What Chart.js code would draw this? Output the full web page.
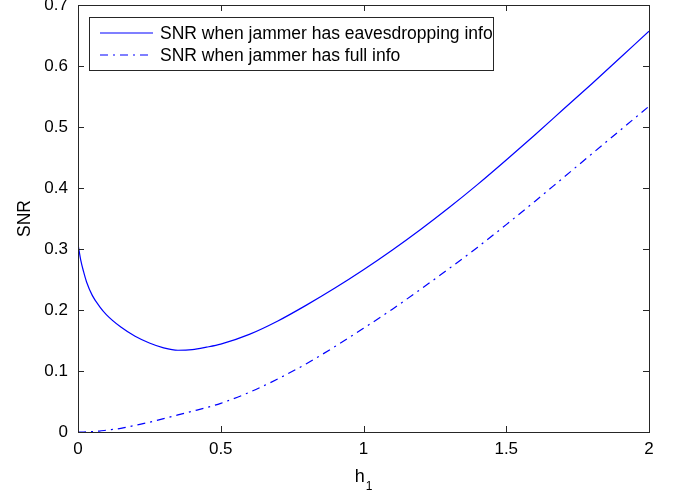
<!DOCTYPE html>
<html>
<head>
<meta charset="utf-8">
<script src="https://cdn.jsdelivr.net/npm/chart.js@4.4.1/dist/chart.umd.min.js"></script>
<style>
  html, body { margin: 0; padding: 0; background: #fff; }
  #wrap { width: 678px; height: 494px; }
</style>
</head>
<body>
<div id="wrap"><canvas id="c" width="678" height="494"></canvas></div>
<script>
const h1Values = [0, 0.01, 0.02, 0.03, 0.05, 0.075, 0.1, 0.15, 0.2, 0.25, 0.3, 0.35, 0.4, 0.45, 0.5,
  0.6, 0.7, 0.8, 0.9, 1.0, 1.1, 1.2, 1.3, 1.4, 1.5, 1.6, 1.7, 1.8, 1.9, 2.0]
const snrEavesdrop = [0.308, 0.281, 0.262, 0.246, 0.224, 0.206, 0.192, 0.172, 0.157, 0.146, 0.138, 0.134, 0.135, 0.139, 0.144,
  0.160, 0.182, 0.208, 0.236, 0.266, 0.298, 0.332, 0.368, 0.406, 0.446, 0.487, 0.529, 0.571, 0.614, 0.657]
const snrFull = [0, 0, 0, 0.0002, 0.0007, 0.0015, 0.003, 0.006, 0.011, 0.016, 0.022, 0.028, 0.034, 0.040, 0.047,
  0.065, 0.087, 0.112, 0.140, 0.170, 0.201, 0.234, 0.268, 0.303, 0.340, 0.378, 0.417, 0.456, 0.495, 0.534]
const seriesLabels = ['SNR when jammer has eavesdropping info', 'SNR when jammer has full info']
const xTickLabels = ['0', '0.5', '1', '1.5', '2']
const yTickLabels = ['0', '0.1', '0.2', '0.3', '0.4', '0.5', '0.6', '0.7']

const FONT = 'Liberation Sans, Arial, sans-serif'
const BLUE = '#0000ff'

const toPoints = ys => ys.map((y, i) => ({ x: h1Values[i], y }))

const matlabFrame = {
  id: 'matlab-frame',
  afterDraw(chart) {
    const { ctx, chartArea: a, scales } = chart
    const tick = 6
    ctx.save()
    ctx.strokeStyle = '#262626'
    ctx.lineWidth = 1
    ctx.strokeRect(a.left + 0.5, a.top + 0.5, a.right - a.left, a.bottom - a.top)

    ctx.beginPath()
    scales.x.ticks.forEach(t => {
      const px = Math.round(scales.x.getPixelForValue(t.value)) + 0.5
      ctx.moveTo(px, a.bottom); ctx.lineTo(px, a.bottom - tick)
      ctx.moveTo(px, a.top); ctx.lineTo(px, a.top + tick)
    })
    scales.y.ticks.forEach(t => {
      const py = Math.round(scales.y.getPixelForValue(t.value)) + 0.5
      ctx.moveTo(a.left, py); ctx.lineTo(a.left + tick, py)
      ctx.moveTo(a.right, py); ctx.lineTo(a.right - tick, py)
    })
    ctx.stroke()

    // axis titles
    ctx.fillStyle = '#000'
    ctx.textBaseline = 'alphabetic'
    const cx = (a.left + a.right) / 2
    ctx.font = '18px ' + FONT
    const hw = ctx.measureText('h').width
    ctx.font = '12px ' + FONT
    const sw = ctx.measureText('1').width
    const startX = cx - (hw + sw + 1) / 2
    ctx.font = '18px ' + FONT
    ctx.fillText('h', startX, 482)
    ctx.font = '12px ' + FONT
    ctx.fillText('1', startX + hw + 1, 490)

    ctx.save()
    ctx.translate(30, (a.top + a.bottom) / 2)
    ctx.rotate(-Math.PI / 2)
    ctx.font = '17.5px ' + FONT
    ctx.textAlign = 'center'
    ctx.fillText('SNR', 0, 0)
    ctx.restore()

    // legend
    const box = { x: 89.5, y: 17.5, w: 404, h: 53 }
    ctx.fillStyle = '#fff'
    ctx.fillRect(box.x, box.y, box.w, box.h)
    ctx.strokeStyle = '#262626'
    ctx.strokeRect(box.x, box.y, box.w, box.h)
    ctx.font = '17.5px ' + FONT
    ctx.textBaseline = 'middle'
    ctx.textAlign = 'left'
    chart.data.datasets.forEach((ds, i) => {
      const y = 33 + i * 22
      ctx.strokeStyle = BLUE
      ctx.lineWidth = 1.2
      ctx.setLineDash(ds.borderDash || [])
      ctx.beginPath()
      ctx.moveTo(100, y); ctx.lineTo(153, y)
      ctx.stroke()
      ctx.setLineDash([])
      ctx.fillStyle = '#000'
      ctx.fillText(ds.label, 160, y + 1)
    })
    ctx.restore()
  }
}

new Chart(document.getElementById('c'), {
  type: 'line',
  data: {
    datasets: [
      {
        label: seriesLabels[0],
        data: toPoints(snrEavesdrop),
        borderColor: BLUE,
        borderWidth: 1.2,
        pointRadius: 0,
        cubicInterpolationMode: 'monotone'
      },
      {
        label: seriesLabels[1],
        data: toPoints(snrFull),
        borderColor: BLUE,
        borderWidth: 1.2,
        borderDash: [8, 5, 2, 5],
        pointRadius: 0,
        cubicInterpolationMode: 'monotone'
      }
    ]
  },
  options: {
    responsive: false,
    animation: false,
    layout: { padding: { top: 5, right: 29, left: 0, bottom: 0 } },
    scales: {
      x: {
        type: 'linear',
        min: 0,
        max: 2,
        grid: { display: false, drawTicks: false },
        border: { display: false },
        afterBuildTicks(scale) {
          scale.ticks = xTickLabels.map(v => ({ value: parseFloat(v) }))
        },
        ticks: {
          padding: 7,
          color: '#000',
          font: { family: FONT, size: 17 },
          maxRotation: 0,
          callback: (v, i) => xTickLabels[i]
        },
        afterFit(scale) {
          scale.height = 62
          scale.paddingLeft = 0
          scale.paddingRight = 0
        }
      },
      y: {
        min: 0,
        max: 0.7,
        grid: { display: false, drawTicks: false },
        border: { display: false },
        afterBuildTicks(scale) {
          scale.ticks = yTickLabels.map(v => ({ value: parseFloat(v) }))
        },
        ticks: {
          padding: 10,
          color: '#000',
          font: { family: FONT, size: 17 },
          callback: (v, i) => yTickLabels[i]
        },
        afterFit(scale) {
          scale.width = 78
          scale.paddingTop = 0
          scale.paddingBottom = 0
        }
      }
    },
    plugins: {
      legend: { display: false },
      tooltip: { enabled: false }
    }
  },
  plugins: [matlabFrame]
})
</script>
</body>
</html>
